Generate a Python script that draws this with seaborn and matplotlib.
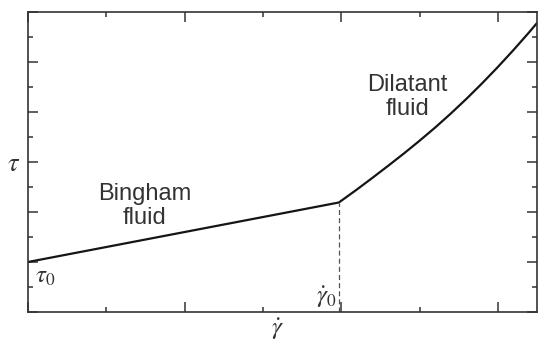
import matplotlib
matplotlib.use("Agg")
import matplotlib.pyplot as plt
from matplotlib.ticker import MultipleLocator
import seaborn as sns
import pandas as pd

# ---- data ----
bingham_x = [0.0, 3.97]
bingham_y = [2.0, 4.38]
dilatant_x = [3.97, 4.2, 4.4, 4.6, 4.8, 5.0, 5.2, 5.4, 5.6, 5.8, 6.0, 6.2, 6.4, 6.5]
dilatant_y = [4.38, 4.90, 5.37, 5.85, 6.34, 6.85, 7.38, 7.94, 8.53, 9.15,
              9.80, 10.48, 11.19, 11.56]
yield_rate = 3.97
x_limits = [0.0, 6.5]
y_limits = [0.0, 12.0]

curve = pd.DataFrame({
    "rate": bingham_x + dilatant_x[1:],
    "stress": bingham_y + dilatant_y[1:],
})

sns.set_theme(style="white")
plt.rcParams["font.family"] = ["Liberation Sans", "DejaVu Sans"]
plt.rcParams["mathtext.fontset"] = "stix"

INK = "#333333"
fig = plt.figure(figsize=(5.38, 3.42), dpi=100)
ax = fig.add_axes([28 / 538, 30 / 342, 509 / 538, 300 / 342])

sns.lineplot(data=curve, x="rate", y="stress", sort=False, estimator=None,
             color="#151515", linewidth=1.6, ax=ax)
ax.plot([yield_rate, yield_rate], [y_limits[0], bingham_y[1]],
        linestyle=(0, (4, 2.5)), color="#555555", linewidth=0.9)

ax.set_xlim(*x_limits)
ax.set_ylim(*y_limits)
ax.xaxis.set_major_locator(MultipleLocator(2))
ax.xaxis.set_minor_locator(MultipleLocator(1))
ax.yaxis.set_major_locator(MultipleLocator(2))
ax.yaxis.set_minor_locator(MultipleLocator(1))
ax.tick_params(which="both", direction="in", top=True, right=True,
               bottom=True, left=True, labelbottom=False, labelleft=False,
               color=INK, width=1.1)
ax.tick_params(which="major", length=7.5)
ax.tick_params(which="minor", length=3.8)
for s in ax.spines.values():
    s.set_color(INK)
    s.set_linewidth(1.2)

ax.set_xlabel(r"$\dot{\gamma}$", fontsize=18, color=INK)
ax.xaxis.set_label_coords((277 - 28) / 509, (312 - 329) / 300)
ax.xaxis.label.set_va("center")
ax.set_ylabel(r"$\tau$", fontsize=19, color=INK, rotation=0)
ax.yaxis.set_label_coords((14 - 28) / 509, (312 - 164) / 300)
ax.yaxis.label.set_va("center")
ax.yaxis.label.set_ha("center")

ax.text(1.49, 4.24, "Bingham\nfluid", ha="center", va="center",
        fontsize=17, color=INK, linespacing=1.1)
ax.text(4.84, 8.6, "Dilatant\nfluid", ha="center", va="center",
        fontsize=17, color=INK, linespacing=1.1)
ax.text(0.09, 1.16, r"$\tau_0$", ha="left", va="baseline",
        fontsize=18, color=INK)
ax.text(yield_rate - 0.02, 0.36, r"$\dot{\gamma}_0$", ha="right",
        va="baseline", fontsize=18, color=INK)

fig.savefig("out.png", dpi=100)
